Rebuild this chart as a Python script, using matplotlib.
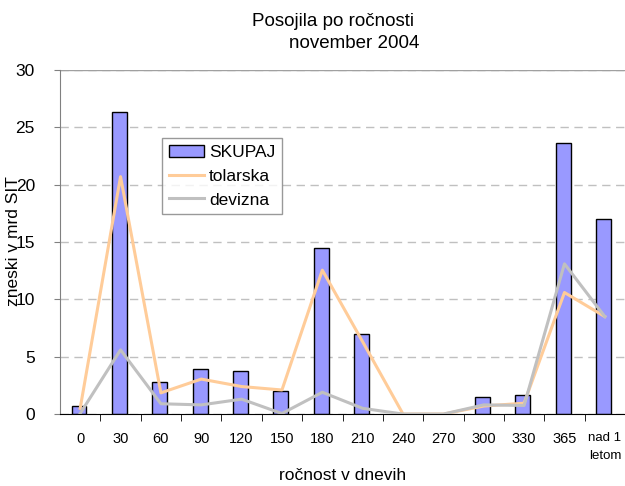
import numpy as np
import matplotlib.pyplot as plt

# podatki
kategorije = ['0', '30', '60', '90', '120', '150', '180', '210', '240', '270',
              '300', '330', '365', 'nad 1\nletom']
skupaj = [0.7, 26.3, 2.8, 3.9, 3.75, 2.05, 14.45, 6.95, 0.0, 0.0, 1.45, 1.7, 23.6, 17.0]
tolarska = [0.5, 20.7, 1.85, 3.05, 2.4, 2.1, 12.55, 6.3, 0.0, 0.0, 0.7, 0.95, 10.6, 8.5]
devizna = [0.05, 5.6, 0.9, 0.8, 1.3, 0.05, 1.9, 0.5, 0.0, 0.0, 0.8, 0.75, 13.1, 8.5]

plt.rcParams['font.family'] = ['Liberation Sans', 'DejaVu Sans']

fig = plt.figure(figsize=(6.25, 4.86), dpi=100)
ax = fig.add_axes([0.096, 0.148, 0.904, 0.708])

x = np.arange(len(kategorije))
bars = ax.bar(x - 0.03, skupaj, width=0.37, color='#9999ff', edgecolor='black',
              linewidth=1, label='SKUPAJ', zorder=2)
l1, = ax.plot(x, tolarska, color='#ffcc99', linewidth=2.2, label='tolarska', zorder=3)
l2, = ax.plot(x, devizna, color='#c0c0c0', linewidth=2.2, label='devizna', zorder=3)

ax.set_xlim(-0.5, len(kategorije) - 0.5)
ax.set_ylim(0, 30)
ax.set_yticks(range(0, 31, 5))
ax.yaxis.grid(True, color='#c0c0c0', linestyle=(0, (6, 4)), linewidth=1, zorder=0)

# oznake na x osi med kategorijami
ax.set_xticks(x)
ax.set_xticklabels(kategorije, fontsize=10.5)
ax.tick_params(axis='x', length=0, pad=13)
ax.set_xticks(np.arange(0.5, len(kategorije) - 0.5), minor=True)
ax.tick_params(axis='x', which='minor', length=5, color='black', direction='out')
lab = ax.get_xticklabels()[-1]
lab.set_fontsize(9.5)
lab.set_linespacing(1.6)
ax.tick_params(axis='y', labelsize=12.5, length=4, color='#808080', pad=14)

for s in ['top', 'right']:
    ax.spines[s].set_visible(False)
ax.spines['left'].set_color('#808080')
ax.spines['bottom'].set_color('black')
ax.axhline(30, color='#a0a0a0', linewidth=1)

ax.set_xlabel('ročnost v dnevih', fontsize=12.5, labelpad=5)
fig.text(0.022, 0.505, 'zneski v mrd SIT', rotation=90, fontsize=12.5,
         ha='center', va='center')

fig.text(0.533, 0.956, 'Posojila po ročnosti', fontsize=13.5, ha='center', va='center')
fig.text(0.567, 0.91, 'november 2004', fontsize=13.5, ha='center', va='center')

leg = ax.legend([bars, l1, l2], ['SKUPAJ', 'tolarska', 'devizna'],
                loc='upper left', bbox_to_anchor=(0.181, 0.803), fontsize=12.5,
                frameon=True, fancybox=False, edgecolor='#808080',
                handlelength=2.0, handletextpad=0.3, borderpad=0.4,
                labelspacing=0.5, borderaxespad=0)
leg.get_frame().set_linewidth(1)

fig.savefig('out.png', dpi=100)
